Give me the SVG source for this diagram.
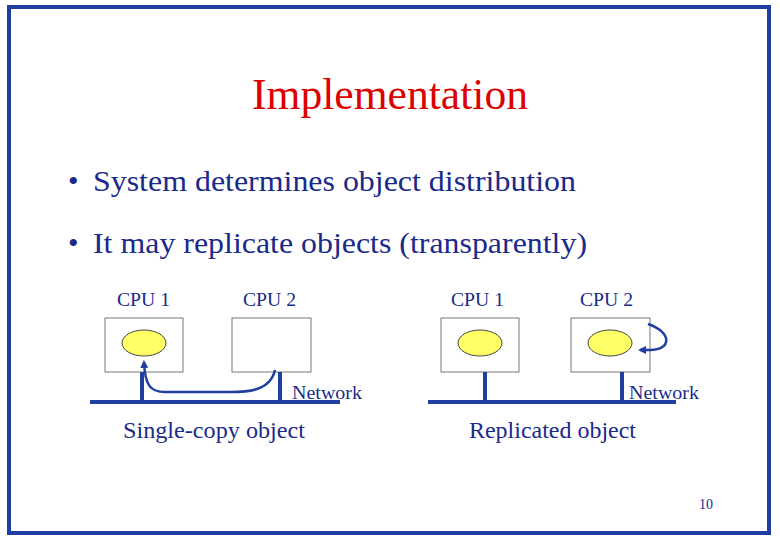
<svg xmlns="http://www.w3.org/2000/svg" width="780" height="540" viewBox="0 0 780 540">
<style>
.t{font-family:"Liberation Serif","Times New Roman",serif}
.b{fill:#fff;stroke:#777;stroke-width:1}
.e{fill:#ffff66;stroke:#444;stroke-width:1}
.l{stroke:#1f3ea0;stroke-width:4;fill:none}
.c{stroke:#1f3ea0;stroke-width:2.5;fill:none}
.lab{font-family:"Liberation Serif","Times New Roman",serif;font-size:19px;fill:#1a2a8a}
</style>
<defs><marker id="a" markerWidth="8" markerHeight="8" refX="6" refY="4" orient="auto" markerUnits="userSpaceOnUse"><path d="M0,0L8,4L0,8z" fill="#1f3ea0"/></marker></defs>
<rect x="0" y="0" width="780" height="540" fill="#fff"/>
<rect x="9" y="7" width="760" height="526" fill="none" stroke="#1f3ea0" stroke-width="4"/>
<text class="t" x="252" y="109" font-size="44" fill="#dd0000" textLength="276" lengthAdjust="spacingAndGlyphs">Implementation</text>
<text class="t" x="68" y="191" font-size="30" fill="#1a2a8a">•</text>
<text class="t" x="93" y="191" font-size="30" fill="#1a2a8a" textLength="483" lengthAdjust="spacingAndGlyphs">System determines object distribution</text>
<text class="t" x="68" y="253" font-size="30" fill="#1a2a8a">•</text>
<text class="t" x="93" y="253" font-size="30" fill="#1a2a8a" textLength="494" lengthAdjust="spacingAndGlyphs">It may replicate objects (transparently)</text>
<g id="n1"><text class="lab" x="117" y="306" textLength="53" lengthAdjust="spacingAndGlyphs">CPU 1</text><rect class="b" x="105" y="318" width="78" height="54"/><ellipse class="e" cx="144" cy="343" rx="22" ry="13"/></g>
<g id="n2"><text class="lab" x="243" y="306" textLength="53" lengthAdjust="spacingAndGlyphs">CPU 2</text><rect class="b" x="232" y="318" width="79" height="54"/></g>
<g id="n3"><text class="lab" x="451" y="306" textLength="53" lengthAdjust="spacingAndGlyphs">CPU 1</text><rect class="b" x="441" y="318" width="78" height="54"/><ellipse class="e" cx="480" cy="343" rx="22" ry="13"/></g>
<g id="n4"><text class="lab" x="580" y="306" textLength="53" lengthAdjust="spacingAndGlyphs">CPU 2</text><rect class="b" x="571" y="318" width="79" height="54"/><ellipse class="e" cx="610" cy="343" rx="22" ry="13"/></g>
<g id="connectors">
<line class="l" x1="90" y1="402" x2="340" y2="402"/>
<line class="l" x1="142" y1="372" x2="142" y2="402"/>
<line class="l" x1="280" y1="372" x2="280" y2="402"/>
<line class="l" x1="428" y1="402" x2="676" y2="402"/>
<line class="l" x1="485" y1="372" x2="485" y2="402"/>
<line class="l" x1="622" y1="372" x2="622" y2="402"/>
<path class="c" d="M275,370 C270,392 245,392 230,392 L165,392 C150,392 145,385 144,362" marker-end="url(#a)"/>
<path class="c" d="M648,324 C672,332 672,350 650,350 L640,350" marker-end="url(#a)"/>
</g>
<text class="lab" x="292" y="399" textLength="70" lengthAdjust="spacingAndGlyphs">Network</text>
<text class="lab" x="629" y="399" textLength="70" lengthAdjust="spacingAndGlyphs">Network</text>
<text class="t" x="123" y="438" font-size="23" fill="#1a2a8a" textLength="182" lengthAdjust="spacingAndGlyphs">Single-copy object</text>
<text class="t" x="469" y="438" font-size="23" fill="#1a2a8a" textLength="167" lengthAdjust="spacingAndGlyphs">Replicated object</text>
<text class="t" x="706" y="509" text-anchor="middle" font-size="14" fill="#1a2a8a">10</text>
</svg>
